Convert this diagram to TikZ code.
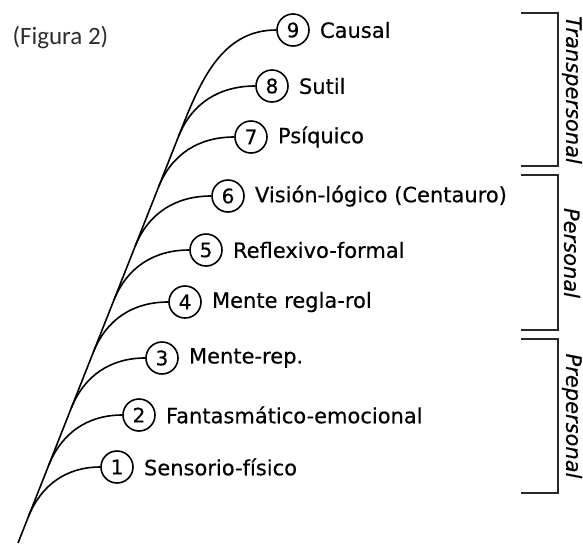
\documentclass[tikz,border=0pt]{standalone}
\usepackage{fontspec}
\setmainfont{DejaVu Sans}[FakeBold=0.4]
\newfontfamily\figfont{Carlito}
\usetikzlibrary{positioning}
\definecolor{inkgray}{RGB}{40,40,40}
\definecolor{capgray}{RGB}{45,45,45}
\tikzset{
  lvl/.style={circle, draw, line width=1.6pt, minimum size=32pt, inner sep=0pt,
    font=\fontsize{20}{24}\selectfont},
  lvltxt/.style={inner sep=0pt, anchor=west, font=\fontsize{21}{25}\selectfont},
  branch/.style={line width=1.6pt, out=68, in=180},
  bracket/.style={line width=1.1pt, inkgray},
  band/.style={rotate=-90, inner sep=0pt, font=\fontsize{21}{25}\selectfont\itshape}
}
\begin{document}
\begin{tikzpicture}[x=1pt,y=1pt]
  \useasboundingbox (0,0) rectangle (583,-544);
  % Caption
  \node[anchor=west, text=capgray, font=\figfont\fontsize{25}{29}\selectfont] (fig) at (9,-38) {(Figura 2)};
  % Levels
  \node[lvl] (n1) at (117,-467) {1};
  \node[lvltxt, right=10pt of n1] (t1) {Sensorio-físico};
  \node[lvl] (n2) at (139,-415) {2};
  \node[lvltxt, right=10pt of n2] (t2) {Fantasmático-emocional};
  \node[lvl] (n3) at (162,-358) {3};
  \node[lvltxt, right=10pt of n3] (t3) {Mente-rep.};
  \node[lvl] (n4) at (185,-302) {4};
  \node[lvltxt, right=10pt of n4] (t4) {Mente regla-rol};
  \node[lvl] (n5) at (206,-250) {5};
  \node[lvltxt, right=10pt of n5] (t5) {Reflexivo-formal};
  \node[lvl] (n6) at (228,-196) {6};
  \node[lvltxt, right=10pt of n6] (t6) {Visión-lógico (Centauro)};
  \node[lvl] (n7) at (251,-137) {7};
  \node[lvltxt, right=10pt of n7] (t7) {Psíquico};
  \node[lvl] (n8) at (272,-86) {8};
  \node[lvltxt, right=10pt of n8] (t8) {Sutil};
  \node[lvl] (n9) at (293,-30) {9};
  \node[lvltxt, right=10pt of n9] (t9) {Causal};
  % Stem
  \coordinate (base) at (18,-543);
  \coordinate (bend) at (185,-120);
  \path (base) -- (bend)
    coordinate[pos=0.062] (s1) coordinate[pos=0.184] (s2)
    coordinate[pos=0.319] (s3) coordinate[pos=0.452] (s4)
    coordinate[pos=0.574] (s5) coordinate[pos=0.702] (s6)
    coordinate[pos=0.842] (s7) coordinate[pos=0.962] (s8);
  \draw[branch] (base) -- (bend) to (n9);
  % Branches
  \draw[branch] (s1) to (n1);
  \draw[branch] (s2) to (n2);
  \draw[branch] (s3) to (n3);
  \draw[branch] (s4) to (n4);
  \draw[branch] (s5) to (n5);
  \draw[branch] (s6) to (n6);
  \draw[branch] (s7) to (n7);
  \draw[branch] (s8) to (n8);
  % Groups
  \draw[bracket] (521,-13) -| (558,-166) -- (521,-166);
  \node[band] (g3) at (572,-90) {Transpersonal};
  \draw[bracket] (521,-175) -| (558,-330) -- (521,-330);
  \node[band] (g2) at (572,-253) {Personal};
  \draw[bracket] (521,-339) -| (558,-493) -- (521,-493);
  \node[band] (g1) at (572,-416) {Prepersonal};
\end{tikzpicture}
\end{document}
